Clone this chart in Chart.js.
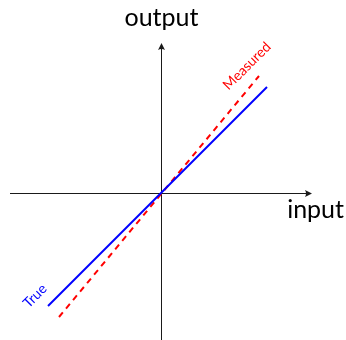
<!DOCTYPE html>
<html>
<head>
<meta charset="utf-8">
<script src="https://cdn.jsdelivr.net/npm/chart.js@4"></script>
<style>
  html, body { margin: 0; padding: 0; background: #fff; }
  canvas { display: block; }
</style>
</head>
<body>
<canvas id="ioChart" width="346" height="340"></canvas>
<script>
// data, in plot units (origin = where the axes cross)
const axisTitles = ["input", "output"];
const seriesNames = ["True", "Measured"];
const xAxisEnds = [-1.51, 1.51];
const yAxisEnds = [-1.47, 1.50];
const trueX = [-1.13, 1.06];
const trueY = [-1.13, 1.06];
const measuredX = [-1.02, 0.98];
const measuredY = [-1.24, 1.17];

const FONT = "Lato, 'Open Sans', sans-serif";

function toPoints(xs, ys) {
    return xs.map((x, i) => ({ x: x, y: ys[i] }));
}

function arrowHead(ctx, x, y, angle) {
    ctx.save();
    ctx.translate(x, y);
    ctx.rotate(angle);
    ctx.beginPath();
    ctx.moveTo(0, 0);
    ctx.lineTo(-7, -3.5);
    ctx.quadraticCurveTo(-5, 0, -7, 3.5);
    ctx.closePath();
    ctx.fill();
    ctx.restore();
}

// draws the two axes with arrows and their titles
const axesPlugin = {
    id: "axesPlugin",
    beforeDatasetsDraw(chart) {
        const { ctx, scales: { x, y } } = chart;
        const ox = Math.round(x.getPixelForValue(0)) + 0.5;
        const oy = Math.round(y.getPixelForValue(0)) + 0.5;
        const x0 = x.getPixelForValue(xAxisEnds[0]);
        const x1 = x.getPixelForValue(xAxisEnds[1]);
        const y0 = y.getPixelForValue(yAxisEnds[0]);
        const y1 = y.getPixelForValue(yAxisEnds[1]);

        ctx.save();
        ctx.strokeStyle = "#1a1a1a";
        ctx.fillStyle = "#1a1a1a";
        ctx.lineWidth = 1;
        ctx.beginPath();
        ctx.moveTo(x0, oy);
        ctx.lineTo(x1 - 3, oy);
        ctx.moveTo(ox, y0);
        ctx.lineTo(ox, y1 + 3);
        ctx.stroke();
        arrowHead(ctx, x1, oy, 0);
        arrowHead(ctx, ox, y1, -Math.PI / 2);

        ctx.fillStyle = "#000";
        ctx.font = "25px " + FONT;
        ctx.textBaseline = "alphabetic";
        ctx.textAlign = "right";
        ctx.fillText(axisTitles[0], 344, oy + 24);
        ctx.textAlign = "center";
        ctx.fillText(axisTitles[1], ox, 26);
        ctx.restore();
    },
    afterDatasetsDraw(chart) {
        const { ctx, scales: { x, y } } = chart;
        ctx.save();
        ctx.font = "14px " + FONT;
        ctx.textAlign = "center";
        ctx.textBaseline = "middle";

        // "True" sits just below the left end of the blue line
        const tx = x.getPixelForValue(trueX[0]);
        const ty = y.getPixelForValue(trueY[0]);
        ctx.save();
        ctx.translate(tx - 13, ty - 10);
        ctx.rotate(-Math.PI / 4);
        ctx.fillStyle = "#0000ff";
        ctx.fillText(seriesNames[0], 0, 0);
        ctx.restore();

        // "Measured" sits above the right end of the red line
        const mx = x.getPixelForValue(measuredX[1]);
        const my = y.getPixelForValue(measuredY[1]);
        ctx.save();
        ctx.translate(mx - 12, my - 10);
        ctx.rotate(-Math.PI / 4);
        ctx.fillStyle = "#ff0000";
        ctx.fillText(seriesNames[1], 0, 0);
        ctx.restore();

        ctx.restore();
    }
};

new Chart(document.getElementById("ioChart").getContext("2d"), {
    type: "scatter",
    data: {
        datasets: [{
            label: seriesNames[0],
            data: toPoints(trueX, trueY),
            showLine: true,
            borderColor: "#0000ff",
            borderWidth: 2,
            pointRadius: 0
        }, {
            label: seriesNames[1],
            data: toPoints(measuredX, measuredY),
            showLine: true,
            borderColor: "#ff0000",
            borderWidth: 2,
            borderDash: [6, 5],
            pointRadius: 0
        }]
    },
    options: {
        responsive: false,
        animation: false,
        layout: { padding: 0 },
        plugins: { legend: { display: false }, tooltip: { enabled: false } },
        scales: {
            x: { type: "linear", min: -1.61, max: 1.85, display: false },
            y: { type: "linear", min: -1.47, max: 1.93, display: false }
        }
    },
    plugins: [axesPlugin]
});
</script>
</body>
</html>
